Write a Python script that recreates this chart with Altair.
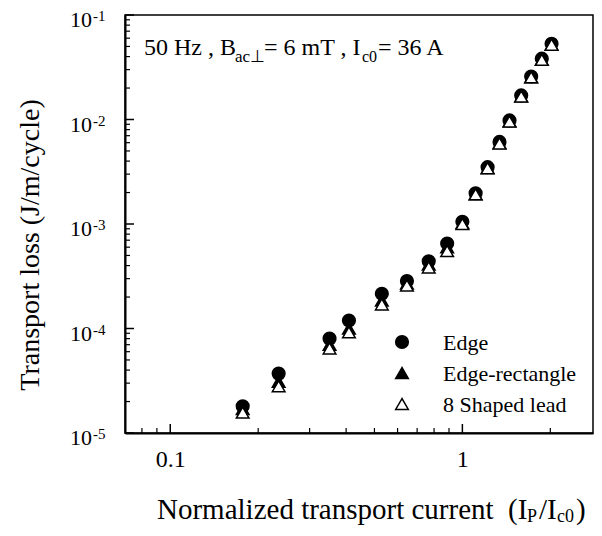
import altair as alt
import pandas as pd

# ---- data ----
current = [0.177, 0.235, 0.351, 0.409, 0.530, 0.646, 0.767, 0.887, 1.0,
           1.11, 1.22, 1.34, 1.45, 1.59, 1.72, 1.87, 2.02]
edge = [1.80e-5, 3.7e-5, 8.0e-5, 1.19e-4, 2.15e-4, 2.85e-4, 4.4e-4, 6.5e-4, 1.05e-3,
        1.97e-3, 3.5e-3, 6.1e-3, 9.8e-3, 1.70e-2, 2.58e-2, 3.82e-2, 5.3e-2]
edge_rect = [1.70e-5, 3.1e-5, 7.0e-5, 1.0e-4, 1.85e-4, 2.7e-4, 4.1e-4, 6.0e-4, 1.02e-3,
             1.93e-3, 3.43e-3, 5.95e-3, 9.6e-3, 1.67e-2, 2.54e-2, 3.75e-2, 5.22e-2]
shaped8 = [1.57e-5, 2.8e-5, 6.44e-5, 9.2e-5, 1.70e-4, 2.58e-4, 3.84e-4, 5.5e-4, 1.0e-3,
           1.92e-3, 3.42e-3, 5.9e-3, 9.55e-3, 1.66e-2, 2.53e-2, 3.72e-2, 5.2e-2]
series_names = ["Edge", "Edge-rectangle", "8 Shaped lead"]
series_shapes = ["circle", "triangle-up", "triangle-up"]
series_fills = ["black", "black", "white"]

x_major = [0.1, 1]
x_minor = [0.08, 0.09, 0.2, 0.3, 0.4, 0.5, 0.6, 0.7, 0.8, 0.9, 2]
y_major = [1e-5, 1e-4, 1e-3, 1e-2, 1e-1]
y_exponents = ["-5", "-4", "-3", "-2", "-1"]
y_minor = [2e-5, 3e-5, 4e-5, 5e-5, 6e-5, 7e-5, 8e-5, 9e-5,
           2e-4, 3e-4, 4e-4, 5e-4, 6e-4, 7e-4, 8e-4, 9e-4,
           2e-3, 3e-3, 4e-3, 5e-3, 6e-3, 7e-3, 8e-3, 9e-3,
           2e-2, 3e-2, 4e-2, 5e-2, 6e-2, 7e-2, 8e-2, 9e-2]

annot_main = ["50 Hz , B", "= 6 mT , I", "= 36 A"]
annot_sub = ["ac\u22a5", "c0"]
xtitle_main = ["Normalized transport current\u00a0\u00a0(I", "/I", ")"]
xtitle_sub = ["P", "c0"]
ytitle = ["Transport loss (J/m/cycle)"]

W, H = 468, 418
FONT = "Liberation Serif"

xscale = alt.Scale(type="log", domain=[0.07, 2.8], nice=False)
yscale = alt.Scale(type="log", domain=[1e-5, 1e-1], nice=False)
shape_scale = alt.Scale(domain=series_names, range=series_shapes)
fill_scale = alt.Scale(domain=series_names, range=series_fills)

df = pd.DataFrame({
    "x": current * 3,
    "y": edge + edge_rect + shaped8,
    "series": [n for n in series_names for _ in current],
})

points = alt.Chart(df).mark_point(filled=True, size=160, stroke="black",
                                  strokeWidth=1.5, opacity=1, fillOpacity=1).encode(
    x=alt.X("x:Q", scale=xscale,
            axis=alt.Axis(values=x_major, format="~g", ticks=False, grid=False,
                          domain=True, domainColor="black", domainWidth=2,
                          labelFont=FONT, labelFontSize=24, labelColor="black",
                          labelPadding=14, labelFlush=False, title=None)),
    y=alt.Y("y:Q", scale=yscale,
            axis=alt.Axis(labels=False, ticks=False, grid=False, domain=True,
                          domainColor="black", domainWidth=2, title=None)),
    shape=alt.Shape("series:N", scale=shape_scale, legend=None),
    fill=alt.Fill("series:N", scale=fill_scale, legend=None),
)

# manual legend (symbols through the same shape/fill scales)
legend_layers = []
for i, name in enumerate(series_names):
    ldf = pd.DataFrame({"series": [name]})
    legend_layers.append(
        alt.Chart(ldf).mark_point(filled=True, size=160, stroke="black", strokeWidth=1.5,
                                  opacity=1, fillOpacity=1).encode(
            x=alt.value(277), y=alt.value(327 + 31 * i),
            shape=alt.Shape("series:N", scale=shape_scale, legend=None),
            fill=alt.Fill("series:N", scale=fill_scale, legend=None)))
    legend_layers.append(
        alt.Chart(ldf).mark_text(align="left", baseline="middle", font=FONT, fontSize=22,
                                 color="black", dy=1).encode(
            x=alt.value(318), y=alt.value(327 + 31 * i), text="series:N"))

# ticks (inward)
xmaj = alt.Chart(pd.DataFrame({"v": x_major})).mark_rule(color="black", strokeWidth=1.5).encode(
    x=alt.X("v:Q", scale=xscale), y=alt.value(H), y2=alt.value(H - 9))
xmin = alt.Chart(pd.DataFrame({"v": x_minor})).mark_rule(color="black", strokeWidth=1.2).encode(
    x=alt.X("v:Q", scale=xscale), y=alt.value(H), y2=alt.value(H - 5))
ymaj = alt.Chart(pd.DataFrame({"v": y_major})).mark_rule(color="black", strokeWidth=1.5).encode(
    y=alt.Y("v:Q", scale=yscale), x=alt.value(0), x2=alt.value(9))
ymin = alt.Chart(pd.DataFrame({"v": y_minor})).mark_rule(color="black", strokeWidth=1.2).encode(
    y=alt.Y("v:Q", scale=yscale), x=alt.value(0), x2=alt.value(5))

# y tick labels 10^n
ydf = pd.DataFrame({"v": y_major, "e": y_exponents, "b": ["10"] * len(y_major)})
ylab_base = alt.Chart(ydf).mark_text(align="right", baseline="middle", font=FONT,
                                     fontSize=22, color="black", dy=5).encode(
    y=alt.Y("v:Q", scale=yscale), x=alt.value(-33), text="b:N")
ylab_exp = alt.Chart(ydf).mark_text(align="left", baseline="middle", font=FONT,
                                    fontSize=15, color="black", dy=1).encode(
    y=alt.Y("v:Q", scale=yscale), x=alt.value(-32), text="e:N")


def txt(s, x, y, size, **kw):
    return alt.Chart(pd.DataFrame({"t": [s]})).mark_text(
        align="left", baseline="alphabetic", font=FONT, fontSize=size,
        color="black", **kw).encode(x=alt.value(x), y=alt.value(y), text="t:N")


annot = [
    txt(annot_main[0], 19, 40, 24),
    txt(annot_sub[0], 110, 47, 17),
    txt(annot_main[1], 139, 40, 24),
    txt(annot_sub[1], 237, 47, 16),
    txt(annot_main[2], 253, 40, 24),
]

TY = H + 86
xt = [
    txt(xtitle_main[0], 32, TY, 29),
    txt(xtitle_sub[0], 402, TY + 3, 18),
    txt(xtitle_main[1], 414, TY, 29),
    txt(xtitle_sub[1], 432, TY + 3, 18),
    txt(xtitle_main[2], 451, TY, 29),
]

ytitle_mark = alt.Chart(pd.DataFrame({"t": ytitle})).mark_text(
    align="center", baseline="middle", font=FONT, fontSize=28, color="black", angle=270
).encode(x=alt.value(-94), y=alt.value(230), text="t:N")

chart = alt.layer(
    xmin, xmaj, ymin, ymaj, points, *legend_layers, ylab_base, ylab_exp,
    ytitle_mark, *annot, *xt
).properties(
    width=W, height=H,
    autosize=alt.AutoSizeParams(type="none"),
    padding={"left": 117, "top": 7, "right": 1, "bottom": 94},
).configure_view(stroke="black", strokeWidth=1.5)

chart.save("out.html", embed_options={"renderer": "svg", "actions": False})
